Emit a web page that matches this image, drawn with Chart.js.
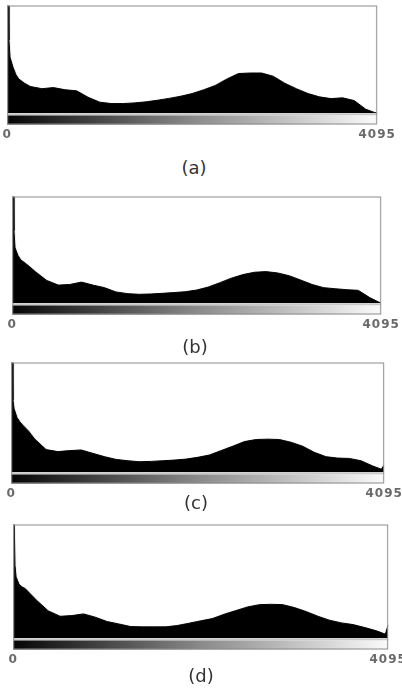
<!DOCTYPE html>
<html>
<head>
<meta charset="utf-8">
<script src="https://cdn.jsdelivr.net/npm/chart.js@4.4.1/dist/chart.umd.min.js"></script>
<style>
body{margin:0;background:#fff;width:402px;height:688px;position:relative;overflow:hidden}
.box{position:absolute;left:0;width:402px}
.cap{position:absolute;font-family:"DejaVu Sans",sans-serif;font-size:18px;color:#333;transform:translate(-50%,-50%);white-space:nowrap}
</style>
</head>
<body>
<div class="box" id="boxA"><canvas id="histA"></canvas></div>
<div class="box" id="boxB"><canvas id="histB"></canvas></div>
<div class="box" id="boxC"><canvas id="histC"></canvas></div>
<div class="box" id="boxD"><canvas id="histD"></canvas></div>
<div class="cap" id="capA"></div>
<div class="cap" id="capB"></div>
<div class="cap" id="capC"></div>
<div class="cap" id="capD"></div>
<script>
// grey levels (x) and histogram heights in % of the panel height
var grayLevels = [0, 12, 20, 32, 64, 96, 128, 192, 256, 384, 512, 640, 768, 896, 1024, 1152, 1280, 1408, 1536, 1664,
                  1792, 1920, 2048, 2176, 2304, 2432, 2560, 2688, 2816, 2944, 3072, 3200, 3328, 3456, 3584, 3712, 3840, 3968, 4064, 4095];

var countsA = [100, 100, 68, 52, 43, 36, 32, 28, 25, 23, 24, 22, 21, 15, 10.5, 9.2, 9.2, 9.8, 10.8, 12.3,
               14, 16, 18.5, 22, 26, 32, 37, 37.5, 37.5, 34.5, 28, 23, 18.5, 15.4, 13.8, 14.5, 12, 4, 1, 0.5];
var countsB = [100, 100, 68, 52, 45, 40.6, 38.8, 34.5, 29.8, 21.5, 17.2, 17.8, 20, 17.2, 14.8, 10.8, 9.2, 8.6, 8.9, 9.5,
               10.2, 11, 12.6, 15.4, 19.4, 23.7, 27, 29.2, 29.8, 28.6, 26, 22, 17.8, 14.8, 13.8, 12.9, 12.3, 5.5, 1.5, 0.5];
var countsC = [100, 100, 66, 58, 50, 46, 43, 37.6, 30.6, 20.8, 19, 19.9, 20.5, 17.4, 14.4, 11.9, 10.7, 9.8, 10.1, 10.7,
               11.3, 12.2, 13.8, 15.9, 19.9, 23.9, 28.1, 30, 30.3, 30, 27.5, 23.9, 18.3, 14.4, 13.1, 12.8, 10.7, 6, 3, 7];
var countsD = [100, 100, 64, 54, 47.5, 45.2, 44, 38.8, 33.5, 24.2, 19.5, 20.1, 21.6, 18.7, 14.9, 12.8, 10.5, 10.2, 10.2, 10.2,
               11.4, 13.4, 15.5, 17.5, 21.3, 24.5, 27.7, 29.7, 30, 29.7, 27.1, 23.6, 19.5, 16, 13.7, 12.2, 9.6, 6.7, 3.8, 12];

var captions = ['(a)', '(b)', '(c)', '(d)'];
var tickValues = [0, 4095];

// where each panel sits on the page
var panels = [
    {key: 'A', counts: countsA, left: 7,  right: 376, top: 5,   bottom: 113, capX: 194, capY: 167},
    {key: 'B', counts: countsB, left: 12, right: 380, top: 196, bottom: 303, capX: 195, capY: 346},
    {key: 'C', counts: countsC, left: 11, right: 383, top: 362, bottom: 472, capX: 196, capY: 502},
    {key: 'D', counts: countsD, left: 13, right: 387, top: 524, bottom: 638, capX: 201, capY: 675}
];

var tickFont = 12;
var tickPad = 14;
var barH = 11;

// grey wedge under the histogram + frame
var grayBar = {
    id: 'grayBar',
    beforeDraw: function(chart) {
        chart.ctx.letterSpacing = '1px';
    },
    afterDatasetsDraw: function(chart) {
        var a = chart.chartArea;
        var ctx = chart.ctx;
        var w = a.right - a.left;
        var g = ctx.createLinearGradient(a.left, 0, a.right, 0);
        g.addColorStop(0, '#050505');
        g.addColorStop(0.5, '#8a8a8a');
        g.addColorStop(1, '#fbfbfb');
        ctx.save();
        ctx.fillStyle = '#c8c8c8';
        ctx.fillRect(a.left, a.bottom, w, 2);
        ctx.fillStyle = g;
        ctx.fillRect(a.left, a.bottom + 2, w, barH - 2);
        ctx.strokeStyle = '#8c8c8c';
        ctx.lineWidth = 1;
        ctx.strokeRect(a.left + 0.5, a.top + 0.5, w - 1, a.bottom + barH - a.top - 1);
        ctx.restore();
    }
};

function drawHist(p) {
    var axisH = tickFont * 1.2 + tickPad * 2;
    var w = 402;
    var h = Math.ceil(p.bottom - p.top + 2 + axisH);
    var x0 = 0;
    var y0 = p.top - 1;
    var box = document.getElementById('box' + p.key);
    box.style.left = x0 + 'px';
    box.style.top = y0 + 'px';
    box.style.width = w + 'px';
    box.style.height = h + 'px';

    var pts = [];
    for (var i = 0; i < grayLevels.length; i++) {
        pts.push({x: grayLevels[i], y: p.counts[i]});
    }

    var ctx = document.getElementById('hist' + p.key).getContext('2d');
    var chart = new Chart(ctx, {
        type: 'line',
        data: {
            datasets: [{
                data: pts,
                fill: 'origin',
                backgroundColor: '#000',
                borderColor: '#000',
                borderWidth: 1,
                pointRadius: 0,
                tension: 0
            }]
        },
        options: {
            responsive: true,
            maintainAspectRatio: false,
            animation: false,
            events: [],
            layout: {padding: {left: 0, right: 0, top: 0, bottom: 0}},
            plugins: {legend: {display: false}, tooltip: {enabled: false}},
            scales: {
                x: {
                    type: 'linear',
                    min: 0,
                    max: 4095,
                    grid: {display: false, drawTicks: false},
                    border: {display: false},
                    afterBuildTicks: function(scale) {
                        scale.ticks = tickValues.map(function(v) { return {value: v}; });
                    },
                    ticks: {
                        padding: tickPad,
                        maxRotation: 0,
                        color: '#686868',
                        font: {family: 'DejaVu Sans', size: tickFont, weight: 'bold'},
                        callback: function(v) { return String(v); }
                    }
                },
                y: {display: false, min: 0, max: 100}
            }
        },
        plugins: [grayBar]
    });

    // move / stretch the canvas so the plot frame lands where it is in the figure
    for (var k = 0; k < 3; k++) {
        var a = chart.chartArea;
        var dw = (p.right - p.left) - (a.right - a.left);
        var dh = (p.bottom - p.top) - (a.bottom - a.top);
        x0 = x0 + (p.left - (x0 + a.left));
        y0 = y0 + (p.top - (y0 + a.top));
        w = w + dw;
        h = h + dh;
        box.style.left = x0 + 'px';
        box.style.top = y0 + 'px';
        box.style.width = w + 'px';
        box.style.height = h + 'px';
        chart.resize(w, h);
    }

    var cap = document.getElementById('cap' + p.key);
    cap.textContent = captions[panels.indexOf(p)];
    cap.style.left = p.capX + 'px';
    cap.style.top = p.capY + 'px';
    return chart;
}

var charts = panels.map(drawHist);
</script>
</body>
</html>
